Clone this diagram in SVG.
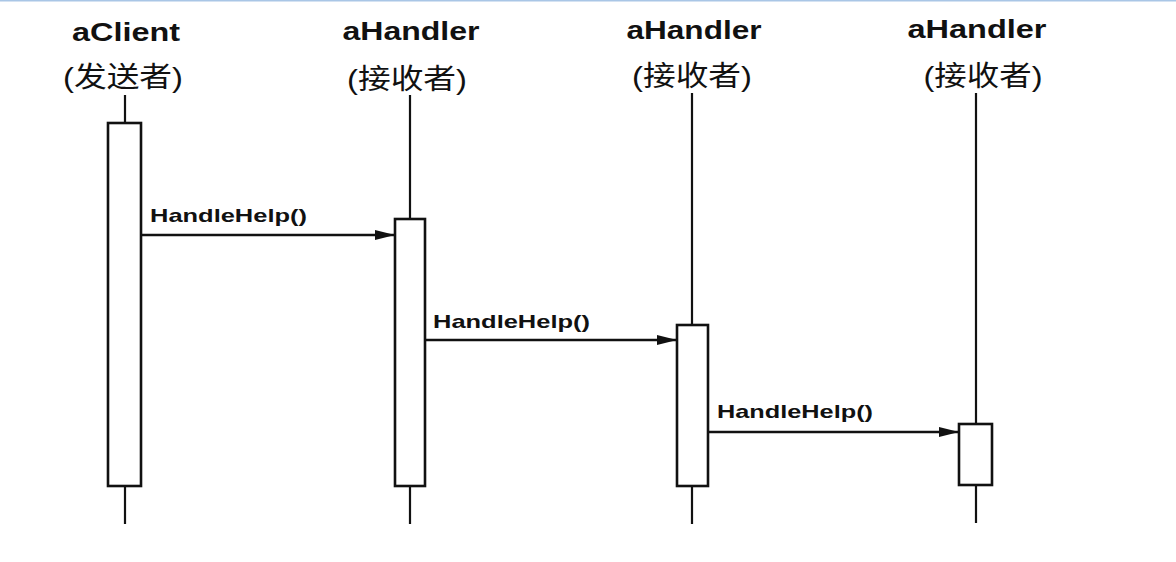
<svg xmlns="http://www.w3.org/2000/svg" width="1176" height="562" viewBox="0 0 1176 562">
<style>
.t{font-family:"Liberation Sans",Arial,sans-serif;font-weight:bold;font-size:26px;fill:#111;text-anchor:middle}
.c{font-family:"Liberation Sans","Noto Sans CJK SC",sans-serif;font-size:28px;fill:#111;text-anchor:middle}
.m{font-family:"Liberation Sans",Arial,sans-serif;font-weight:bold;font-size:19px;fill:#111}
.life{stroke:#111;stroke-width:2.2;fill:none}
.act{stroke:#111;stroke-width:2.6;fill:#fff}
.msg{stroke:#111;stroke-width:2.4;fill:none;marker-end:url(#ah)}
</style>
<defs>
<marker id="ah" markerWidth="20" markerHeight="10" refX="20" refY="5" orient="auto" markerUnits="userSpaceOnUse" viewBox="0 0 20 10">
<path d="M0,0 L20,5 L0,10 Z" fill="#111"/>
</marker>
</defs>
<rect x="0" y="0" width="1176" height="562" fill="#fff"/>
<rect x="0" y="0" width="1176" height="1.5" fill="#a9c6e6"/>
<g id="client">
<text class="t" x="126" y="41" textLength="108" lengthAdjust="spacingAndGlyphs">aClient</text>
<text class="c" x="123" y="87" textLength="120" lengthAdjust="spacingAndGlyphs">(发送者)</text>
<line class="life" x1="125" y1="95" x2="125" y2="524"/>
<rect class="act" x="108" y="123" width="33" height="363"/>
</g>
<g id="handler1">
<text class="t" x="411" y="40" textLength="137" lengthAdjust="spacingAndGlyphs">aHandler</text>
<text class="c" x="407" y="89" textLength="120" lengthAdjust="spacingAndGlyphs">(接收者)</text>
<line class="life" x1="410" y1="95" x2="410" y2="524"/>
<rect class="act" x="395" y="219" width="30" height="267"/>
</g>
<g id="handler2">
<text class="t" x="694" y="39" textLength="135" lengthAdjust="spacingAndGlyphs">aHandler</text>
<text class="c" x="692" y="86" textLength="120" lengthAdjust="spacingAndGlyphs">(接收者)</text>
<line class="life" x1="692" y1="93" x2="692" y2="524"/>
<rect class="act" x="677" y="325" width="31" height="161"/>
</g>
<g id="handler3">
<text class="t" x="977" y="38" textLength="139" lengthAdjust="spacingAndGlyphs">aHandler</text>
<text class="c" x="983" y="86" textLength="119" lengthAdjust="spacingAndGlyphs">(接收者)</text>
<line class="life" x1="976" y1="93" x2="976" y2="523"/>
<rect class="act" x="959" y="424" width="33" height="61"/>
</g>
<g id="connectors">
<line class="msg" x1="142" y1="235" x2="395" y2="235"/>
<text class="m" x="150" y="222" textLength="157" lengthAdjust="spacingAndGlyphs">HandleHelp()</text>
<line class="msg" x1="426" y1="340" x2="677" y2="340"/>
<text class="m" x="433" y="328" textLength="157" lengthAdjust="spacingAndGlyphs">HandleHelp()</text>
<line class="msg" x1="708" y1="432" x2="959" y2="432"/>
<text class="m" x="717" y="418" textLength="156" lengthAdjust="spacingAndGlyphs">HandleHelp()</text>
</g>
</svg>
